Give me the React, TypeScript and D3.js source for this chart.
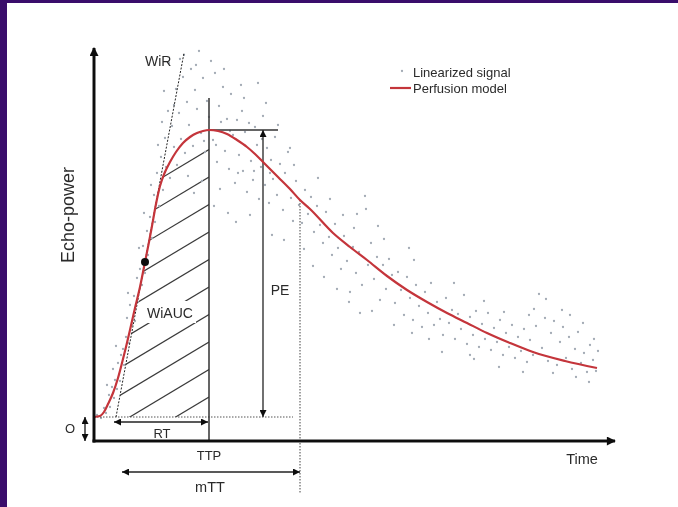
import React from 'react';
import * as d3 from 'd3';

const W = 678;
const H = 507;

// Perfusion model curve (time, echo-power) in arbitrary units
const curveTime = [0, 0.6, 1.0, 1.4, 1.9, 2.4, 2.8, 3.2, 3.6, 4.1, 4.6, 5.1, 5.5, 5.8, 6.2, 6.6, 7.1, 7.6, 8.2, 8.9, 9.6, 10.3, 10.9, 11.5, 12.4, 13.3, 14.3, 15.3, 16.1, 16.9, 18.4, 19.6, 20.6, 21.6, 23.9, 25.6, 27.3, 29.3, 31.3, 33.3, 35.3, 37.3, 39.3, 41.6, 43.9, 47.1, 50.3];
const curvePower = [2.4, 2.5, 2.9, 3.7, 4.8, 6.3, 7.8, 9.4, 11.1, 13.3, 15.4, 17.9, 19.9, 21.5, 23.7, 25.5, 26.9, 27.9, 28.9, 29.8, 30.4, 30.8, 31.0, 31.1, 31.0, 30.7, 30.1, 29.4, 28.7, 27.9, 26.4, 25.2, 24.1, 23.2, 20.8, 19.4, 18.1, 16.5, 15.1, 13.9, 12.8, 11.8, 10.8, 9.8, 8.9, 8.0, 7.3];

// Linearized signal samples [time, echo-power]
const signal: [number, number][] = [
  [0.3, 2.6], [0.7, 2.3], [1.0, 3.3], [1.2, 2.8], [1.5, 4.6], [1.6, 3.4], [1.8, 5.4], [2.0, 4.3], [2.1, 6.1], [2.3, 5.2],
  [2.4, 7.8], [2.6, 6.0], [2.7, 8.6], [2.9, 9.2], [3.0, 7.6], [3.2, 10.4], [3.3, 12.3], [3.5, 9.8], [3.6, 13.6], [3.8, 11.6],
  [4.0, 14.5], [4.1, 12.0], [4.3, 16.3], [4.4, 13.9], [4.6, 17.2], [4.8, 15.6], [4.9, 19.5], [5.1, 16.8], [5.3, 21.0], [5.4, 18.6],
  [5.6, 22.4], [5.8, 20.3], [6.0, 24.6], [6.1, 21.9], [6.3, 26.8], [6.5, 23.5], [6.7, 28.4], [6.9, 25.1], [7.1, 30.3], [7.2, 27.4],
  [7.4, 33.0], [7.6, 26.3], [7.8, 31.5], [8.0, 29.4], [8.2, 35.2], [8.3, 27.6], [8.5, 32.8], [8.7, 30.2], [8.9, 36.4], [9.1, 28.8],
  [9.3, 33.9], [9.5, 31.6], [9.7, 37.2], [9.9, 29.5], [10.1, 35.1], [10.3, 33.2], [10.5, 39.0], [10.7, 30.8], [10.9, 36.3], [11.1, 28.9],
  [11.3, 34.0], [11.5, 32.4], [11.7, 38.0], [11.9, 30.1], [12.1, 36.8], [12.3, 27.9], [12.5, 33.5], [12.7, 31.9], [12.9, 35.4], [13.1, 29.0],
  [13.3, 32.2], [13.5, 27.2], [13.7, 34.7], [13.9, 30.6], [14.1, 25.8], [14.3, 32.1], [14.5, 28.6], [14.7, 35.6], [14.9, 27.0], [15.1, 30.9],
  [15.3, 24.9], [15.5, 31.8], [15.7, 28.0], [15.9, 26.1], [16.1, 31.4], [16.3, 29.6], [16.5, 24.2], [16.7, 27.4], [16.9, 32.5], [17.1, 25.6],
  [17.3, 29.3], [17.5, 23.8], [17.7, 28.1], [17.9, 26.2], [18.1, 30.4], [18.3, 24.6], [18.6, 27.7], [18.9, 23.1], [19.1, 26.8], [19.4, 28.9],
  [19.7, 24.3], [19.9, 22.0], [20.2, 26.0], [20.5, 23.6], [20.8, 21.8], [21.1, 25.1], [21.4, 22.7], [21.7, 24.4], [22.0, 20.9], [22.3, 23.5],
  [22.6, 21.6], [22.9, 19.8], [23.2, 22.9], [23.5, 20.4], [23.8, 18.6], [24.1, 21.7], [24.4, 19.3], [24.7, 17.2], [25.0, 20.5], [25.3, 18.0],
  [25.6, 14.9], [25.9, 19.4], [26.2, 16.8], [26.5, 18.9], [26.8, 15.6], [27.1, 24.5], [27.2, 23.2], [27.4, 17.6], [27.7, 19.8], [28.0, 16.2],
  [28.3, 18.4], [28.6, 14.1], [28.9, 17.6], [29.2, 15.2], [29.5, 18.2], [29.8, 16.6], [30.1, 13.8], [30.4, 16.9], [30.7, 15.1], [31.0, 12.6],
  [31.3, 16.4], [31.6, 14.3], [31.9, 12.1], [32.2, 15.6], [32.5, 13.5], [32.8, 11.4], [33.1, 14.9], [33.4, 12.8], [33.7, 15.8], [34.0, 11.6],
  [34.3, 13.9], [34.6, 12.2], [34.9, 10.6], [35.2, 14.3], [35.5, 11.8], [35.8, 13.1], [36.1, 10.2], [36.4, 12.7], [36.7, 11.2], [37.0, 14.6],
  [37.3, 9.7], [37.6, 12.4], [37.9, 10.6], [38.2, 13.0], [38.5, 9.4], [38.8, 11.7], [39.1, 10.2], [39.4, 12.8], [39.7, 9.1], [40.0, 11.3],
  [40.3, 9.9], [40.6, 12.1], [40.9, 8.6], [41.2, 10.8], [41.5, 9.4], [41.8, 11.6], [42.1, 8.3], [42.4, 10.4], [42.7, 9.0], [43.0, 11.2],
  [43.3, 7.9], [43.6, 10.1], [43.9, 8.6], [44.2, 11.5], [44.5, 14.7], [44.8, 9.3], [45.1, 12.3], [45.4, 8.0], [45.7, 10.8], [46.0, 12.0],
  [46.3, 7.6], [46.6, 9.9], [46.9, 11.4], [47.2, 8.3], [47.5, 10.4], [47.8, 7.2], [48.1, 9.2], [48.4, 10.9], [48.7, 7.8], [49.0, 8.8],
  [49.3, 6.9], [49.6, 9.6], [49.9, 8.1], [50.2, 7.0],
  [1.3, 5.6], [1.9, 7.2], [2.2, 9.5], [3.4, 14.8], [4.5, 19.3], [5.0, 22.8], [5.7, 25.6], [6.4, 29.6], [6.8, 31.9], [7.0, 35.0],
  [7.5, 37.8], [8.0, 33.6], [9.0, 38.6], [10.2, 37.6], [11.0, 30.0], [12.2, 29.6], [13.0, 37.2], [13.6, 31.0], [14.4, 26.8], [14.8, 33.0],
  [16.0, 27.0], [16.8, 30.2], [17.6, 26.8], [8.6, 38.2], [9.4, 26.5], [10.0, 24.8], [10.8, 26.0], [12.0, 23.5], [12.6, 25.2], [13.4, 22.8],
  [14.2, 21.9], [15.0, 34.3], [15.6, 22.6], [16.4, 35.8], [17.2, 33.8], [17.8, 20.6], [18.4, 31.6], [19.0, 20.1], [19.6, 29.3], [20.0, 27.6],
  [21.0, 19.2], [21.9, 17.5], [22.4, 26.3], [23.0, 16.4], [23.6, 24.2], [24.3, 15.2], [24.9, 22.6], [25.5, 13.9], [26.0, 21.3], [26.6, 12.8],
  [36.0, 15.8], [38.0, 8.2], [39.0, 14.0], [41.0, 12.9], [42.9, 6.9], [44.0, 13.2], [45.2, 14.2], [45.9, 6.8], [46.8, 13.1], [47.6, 12.6],
  [48.2, 6.4], [48.9, 11.8], [49.5, 5.9], [50.0, 10.2], [50.4, 9.0], [43.5, 12.6], [40.5, 7.4], [37.6, 8.6], [34.8, 8.9], [33.5, 10.2],
  [31.8, 10.8], [30.0, 11.6], [29.0, 20.2], [31.5, 19.3], [32.0, 18.1], [28.4, 21.5], [27.8, 13.0], [26.3, 22.7],
];

// Key parameters
const offsetO = 2.4;     // baseline offset
const ttp = 11.5;        // time to peak
const peakPE = 31.1;     // peak enhancement
const mtt = 20.6;        // mean transit time
const rtStart = 2.0;     // rise time start
const wirDot: [number, number] = [5.1, 17.9];
const wirLine: [number, number][] = [[2.2, 2.4], [9.0, 38.8]];
const hatchLevels = [4.4, 7.15, 9.9, 12.65, 15.4, 18.15, 20.9, 23.65, 26.4, 29.15];
const hatchSlope = 0.6;

const FONT = "'Liberation Sans', Arial, Helvetica, sans-serif";
const TXT = '#2b2b2b';

export default function App() {
  const x = d3.scaleLinear().domain([0, 52]).range([94, 614]);
  const y = d3.scaleLinear().domain([0, 39]).range([441, 51]);

  const pts: [number, number][] = curveTime.map((t, i) => [t, curvePower[i]]);
  const line = d3.line<[number, number]>().x(d => x(d[0])).y(d => y(d[1])).curve(d3.curveMonotoneX);
  const area = d3.area<[number, number]>().x(d => x(d[0])).y0(y(offsetO)).y1(d => y(d[1])).curve(d3.curveMonotoneX);
  const risePts = pts.filter(p => p[0] <= ttp);

  const tanSlope = (wirLine[1][1] - wirLine[0][1]) / (wirLine[1][0] - wirLine[0][0]);
  const tanTAt = (e: number) => wirLine[0][0] + (e - wirLine[0][1]) / tanSlope;
  const tangentClip = [
    [x(tanTAt(offsetO)), y(offsetO)],
    [x(tanTAt(40)), y(40)],
    [x(ttp), y(40)],
    [x(ttp), y(offsetO)],
  ].map(p => p.join(',')).join(' ');

  const ax = x(0);
  const ay = y(0);

  return (
    <svg width={W} height={H} style={{ position: 'absolute', left: 0, top: 0 }} fontFamily={FONT}>
      <defs>
        <marker id="ah" viewBox="0 0 10 10" refX="10" refY="5" markerWidth="7" markerHeight="7" markerUnits="userSpaceOnUse" orient="auto-start-reverse">
          <path d="M0,0 L10,5 L0,10 z" fill="#111" />
        </marker>
        <marker id="axh" viewBox="0 0 10 10" refX="9" refY="5" markerWidth="10" markerHeight="9" markerUnits="userSpaceOnUse" orient="auto">
          <path d="M0,0 L10,5 L0,10 z" fill="#111" />
        </marker>
        <clipPath id="clipUnder">
          <path d={area(risePts) || ''} />
        </clipPath>
        <clipPath id="clipTan">
          <polygon points={tangentClip} />
        </clipPath>
        <filter id="soft" x="-5%" y="-5%" width="110%" height="110%">
          <feGaussianBlur stdDeviation="0.35" />
        </filter>
      </defs>

      {/* frame */}
      <rect x={0} y={0} width={W} height={H} fill="#3a0d6b" />
      <rect x={7} y={3} width={W - 7} height={H - 3} fill="#ffffff" />

      <g filter="url(#soft)">
        {/* hatching (WiAUC) */}
        <g clipPath="url(#clipUnder)">
          <g clipPath="url(#clipTan)">
            {hatchLevels.map((e0, i) => (
              <line key={i} x1={x(0)} y1={y(e0 - hatchSlope * ttp)} x2={x(ttp)} y2={y(e0)} stroke="#3a3a3a" strokeWidth={1.2} />
            ))}
          </g>
        </g>
        <rect x={x(7.6) - 26} y={y(12.8) - 12} width={52} height={22} fill="#fff" />

        {/* signal dots */}
        {signal.map((d, i) => (
          <circle key={i} cx={x(d[0])} cy={y(d[1])} r={1.15} fill="#a3abb5" />
        ))}

        {/* baseline dotted */}
        <line x1={ax} y1={y(offsetO)} x2={x(19.9)} y2={y(offsetO)} stroke="#555" strokeWidth={1.2} strokeDasharray="1.5,1.5" />

        {/* TTP vertical line */}
        <line x1={x(ttp)} y1={y(34.3)} x2={x(ttp)} y2={ay} stroke="#333" strokeWidth={1.5} />
        {/* peak horizontal */}
        <line x1={x(ttp)} y1={y(peakPE)} x2={x(18.4)} y2={y(peakPE)} stroke="#333" strokeWidth={1.5} />
        {/* PE arrow */}
        <line x1={x(16.9)} y1={y(offsetO)} x2={x(16.9)} y2={y(peakPE)} stroke="#333" strokeWidth={1.4} markerStart="url(#ah)" markerEnd="url(#ah)" />

        {/* WiR tangent */}
        <line x1={x(wirLine[0][0])} y1={y(wirLine[0][1])} x2={x(wirLine[1][0])} y2={y(wirLine[1][1])} stroke="#222" strokeWidth={1} strokeDasharray="2,1.5" />

        {/* mTT dotted */}
        <line x1={x(mtt)} y1={y(24.1)} x2={x(mtt)} y2={y(-5.2)} stroke="#444" strokeWidth={1} strokeDasharray="1.5,1.5" />

        {/* perfusion model */}
        <path d={line(pts) || ''} fill="none" stroke="#c4343a" strokeWidth={2.2} />

        {/* WiR dot */}
        <circle cx={x(wirDot[0])} cy={y(wirDot[1])} r={4} fill="#111" />

        {/* RT arrow */}
        <line x1={x(rtStart)} y1={y(1.9)} x2={x(ttp) - 1} y2={y(1.9)} stroke="#222" strokeWidth={1.4} markerStart="url(#ah)" markerEnd="url(#ah)" />
        {/* O arrow */}
        <line x1={x(-0.9)} y1={y(offsetO)} x2={x(-0.9)} y2={ay} stroke="#222" strokeWidth={1.4} markerStart="url(#ah)" markerEnd="url(#ah)" />
        {/* mTT arrow */}
        <line x1={x(2.8)} y1={y(-3.1)} x2={x(mtt)} y2={y(-3.1)} stroke="#222" strokeWidth={1.4} markerStart="url(#ah)" markerEnd="url(#ah)" />

        {/* axes */}
        <line x1={ax} y1={ay + 1.5} x2={ax} y2={y(39.3)} stroke="#111" strokeWidth={3} markerEnd="url(#axh)" />
        <line x1={ax - 1.5} y1={ay} x2={x(52.1)} y2={ay} stroke="#111" strokeWidth={3} markerEnd="url(#axh)" />

        {/* labels */}
        <text transform={`translate(${ax - 20},${y(22.6)}) rotate(-90)`} textAnchor="middle" fontSize={18} fill={TXT}>Echo-power</text>
        <text x={x(5.1)} y={y(37.5)} fontSize={14} fill={TXT}>WiR</text>
        <text x={x(7.6)} y={y(12.3)} fontSize={14} fill={TXT} textAnchor="middle">WiAUC</text>
        <text x={x(18.6)} y={y(14.6)} fontSize={14} fill={TXT} textAnchor="middle">PE</text>
        <text x={x(6.8)} y={y(0.3)} fontSize={13} fill={TXT} textAnchor="middle">RT</text>
        <text x={x(-2.4)} y={y(0.8)} fontSize={13} fill={TXT} textAnchor="middle">O</text>
        <text x={x(ttp)} y={y(-1.9)} fontSize={13} fill={TXT} textAnchor="middle">TTP</text>
        <text x={x(11.6)} y={y(-5.1)} fontSize={14.5} fill={TXT} textAnchor="middle">mTT</text>
        <text x={x(48.8)} y={y(-2.3)} fontSize={14.5} fill={TXT} textAnchor="middle">Time</text>

        {/* legend */}
        <circle cx={402} cy={71} r={1.15} fill="#a3abb5" />
        <text x={413} y={77} fontSize={13} fill={TXT}>Linearized signal</text>
        <line x1={390} y1={88} x2={411} y2={88} stroke="#c4343a" strokeWidth={2.2} />
        <text x={413} y={93} fontSize={13} fill={TXT}>Perfusion model</text>
      </g>
    </svg>
  );
}
